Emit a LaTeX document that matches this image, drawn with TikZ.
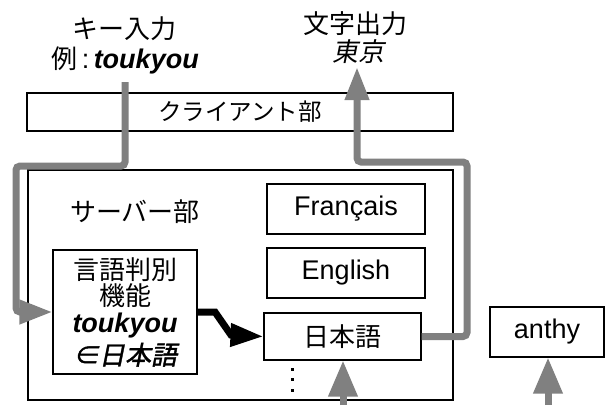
\documentclass[tikz,border=0pt]{standalone}
\usepackage{fontspec}
\setmainfont{Liberation Sans}
\newfontfamily\jp{Noto Sans CJK JP}
\newfontfamily\jpsl[FakeSlant=0.2]{Noto Sans CJK JP}
\newfontfamily\jpbsl[FakeSlant=0.2,FakeBold=1.5]{Noto Sans CJK JP}
\usetikzlibrary{arrows.meta}
\definecolor{pathgray}{RGB}{128,128,128}
\tikzset{
  box/.style={draw=black, line width=1.1pt, inner sep=0pt, align=center},
  lat/.style={font=\fontsize{27}{29}\selectfont},
  cjk/.style={font=\jp\fontsize{26}{28}\selectfont},
  lbl/.style={inner sep=0pt, anchor=base, align=center},
  garrow/.style={draw=pathgray, line width=7pt, rounded corners=4pt,
    -{Triangle[length=33pt,width=23pt]}},
  garrowb/.style={draw=pathgray, line width=7pt,
    -{Triangle[length=36pt,width=28pt]}},
  barrow/.style={draw=black, line width=7pt,
    -{Triangle[length=33pt,width=22pt]}},
  dotsq/.style={fill=black}
}
\begin{document}
\begin{tikzpicture}[x=1pt,y=-1pt]
\useasboundingbox (0,0) rectangle (605,405);
% boxes
\node[box, minimum width=426pt, minimum height=38pt, font=\jp\fontsize{23.5}{25}\selectfont] (client) at (240,112) {クライアント部};
\node[box, minimum width=425pt, minimum height=230pt] (server) at (240.5,285) {};
\node[box, minimum width=144pt, minimum height=124pt, font=\jp\fontsize{26}{26.5}\selectfont] (lang) at (125,312)
  {言語判別\\ 機能\\[0pt]
   {\fontspec{Liberation Sans}\fontsize{27}{27}\selectfont\bfseries\itshape toukyou}\\[4pt]
   {\jpbsl ∈日本語}};
\node[box, lat, minimum width=158pt, minimum height=50pt] (fr) at (346,209) {Français};
\node[box, lat, minimum width=158pt, minimum height=50pt] (en) at (346,273) {English};
\node[box, cjk, minimum width=157pt, minimum height=47pt] (ja) at (342.5,336.5) {日本語};
\node[box, lat, minimum width=114pt, minimum height=50pt] (anthy) at (547,332) {anthy};
% texts
\node[lbl, cjk] (keyin) at (124,38) {キー入力};
\node[lbl, lat] (example) at (125,68) {{\jp\fontsize{26}{28}\selectfont 例}\,:\,\textbf{\textit{toukyou}}};
\node[lbl, cjk] (charout) at (355,33) {文字出力};
\node[lbl, font=\jpsl\fontsize{26}{28}\selectfont] (tokyo) at (358,61) {東京};
\node[lbl, cjk] (srvlbl) at (135,221) {サーバー部};
% dots
\fill[dotsq] (290.5,367.5) rectangle (293.5,370.5);
\fill[dotsq] (290.5,377.5) rectangle (293.5,380.5);
\fill[dotsq] (290.5,388.5) rectangle (293.5,391.5);
% connectors
\coordinate (inS) at (125,82);
\coordinate (outE) at (357,67);
\coordinate (b1) at (343,405);
\coordinate (b2) at (548,405);
\draw[garrow] (inS) -- (125,166) -- (16,166) -- (16,312) -- (lang.west);
\draw[garrow] (ja.east) -- (467,336.5) -- (467,162) -- (357,162) -- (outE);
\draw[barrow] (lang.east) -- (215,312) -- (231,335) -- (ja.west);
\draw[garrowb] (b1) -- (b1 |- ja.south);
\draw[garrowb] (b2) -- (b2 |- anthy.south);
\end{tikzpicture}
\end{document}
